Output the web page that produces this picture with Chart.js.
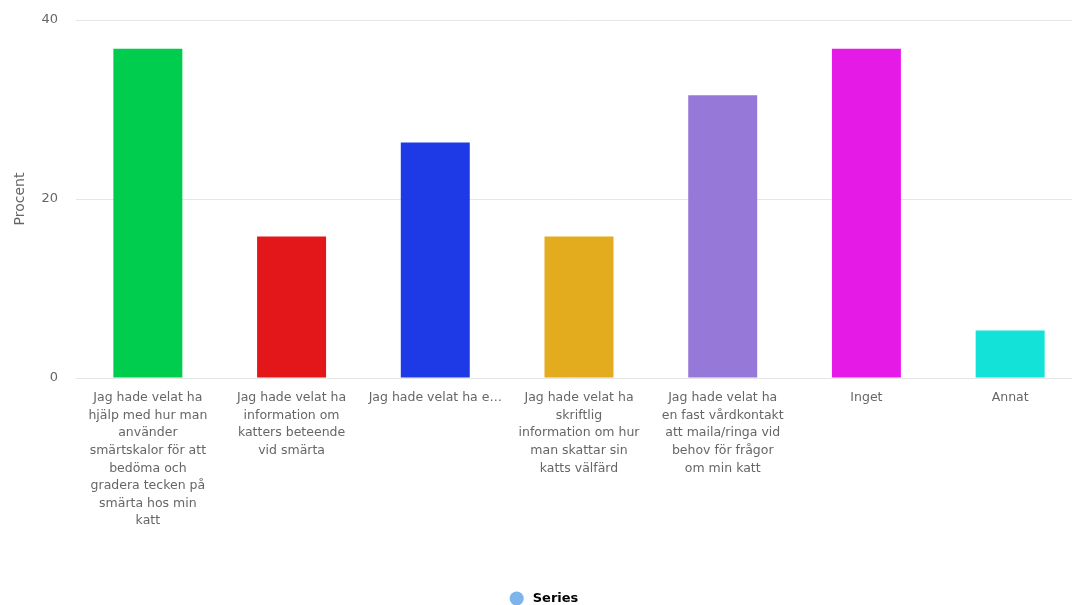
<!DOCTYPE html>
<html>
<head>
<meta charset="utf-8">
<script src="https://cdn.jsdelivr.net/npm/chart.js@4"></script>
<style>
  html, body { margin: 0; padding: 0; background: #fff; }
  #wrap { width: 1072px; height: 605px; }
</style>
</head>
<body>
<div id="wrap"><canvas id="chart" width="1072" height="605"></canvas></div>
<script>
// categories (already wrapped the way the reference shows them)
const labels = [
  ["Jag hade velat ha","hjälp med hur man","använder","smärtskalor för att","bedöma och","gradera tecken på","smärta hos min","katt"],
  ["Jag hade velat ha","information om","katters beteende","vid smärta"],
  ["Jag hade velat ha e…"],
  ["Jag hade velat ha","skriftlig","information om hur","man skattar sin","katts välfärd"],
  ["Jag hade velat ha","en fast vårdkontakt","att maila/ringa vid","behov för frågor","om min katt"],
  ["Inget"],
  ["Annat"]
];
const values = [36.8, 15.8, 26.3, 15.8, 31.6, 36.8, 5.3];
const barColors = ["#00cc4d","#e31619","#1e3ae6","#e3ab1e","#9678d8","#e61ae6","#12e2d8"];
const yTicks = [0, 20, 40];
const seriesName = "Series";
const seriesColor = "#7cb5ec";

Chart.defaults.font.family = "'DejaVu Sans', sans-serif";
Chart.defaults.font.size = 12;
Chart.defaults.color = "#666";

// the original plot starts higher and runs a bit past the right edge,
// and its legend sits lower than chart.js would put it
const nudge = {
  id: "nudge",
  afterLayout(chart) {
    const area = chart.chartArea;
    const x = chart.scales.x, y = chart.scales.y;
    x.right += 10; x.width += 10; x.configure();
    area.right += 10; area.width += 10;
    const dy = area.top - 20;
    y.top -= dy; y.height += dy; y.configure();
    area.top -= dy; area.height += dy;
    const lg = chart.legend;
    lg.top += 10; lg.bottom += 10;
    lg.left += 9; lg.right += 9;
  }
};

new Chart(document.getElementById("chart"), {
  type: "bar",
  data: {
    labels: labels,
    datasets: [{
      label: seriesName,
      data: values,
      backgroundColor: barColors,
      barPercentage: 0.48,
      categoryPercentage: 1
    }]
  },
  options: {
    responsive: false,
    animation: false,
    layout: { padding: { top: 15, right: 0, left: 0, bottom: 0 } },
    plugins: {
      tooltip: { enabled: false },
      legend: {
        position: "bottom",
        labels: {
          usePointStyle: true,
          boxWidth: 10,
          boxHeight: 10,
          padding: 4,
          color: "#333",
          font: { size: 13, weight: "bold" },
          generateLabels: () => [{
            text: " " + seriesName,
            fillStyle: seriesColor,
            strokeStyle: seriesColor,
            lineWidth: 0,
            pointStyle: "circle",
            datasetIndex: 0
          }]
        }
      }
    },
    scales: {
      x: {
        grid: { display: false },
        border: { display: false },
        ticks: {
          maxRotation: 0,
          minRotation: 0,
          autoSkip: false,
          padding: 3,
          color: "#666",
          font: { size: 12.5, lineHeight: 1.41 }
        },
        afterFit: s => { s.height = 200; }
      },
      y: {
        min: 0,
        max: 40,
        afterBuildTicks: s => { s.ticks = yTicks.map(v => ({ value: v })); },
        grid: { color: "#e6e6e6", drawTicks: false },
        border: { display: false },
        ticks: { padding: 18, color: "#666", font: { size: 13 } },
        title: { display: true, text: "Procent", color: "#666", font: { size: 14 }, padding: { top: 12, bottom: 0 } },
        afterFit: s => { s.width = 76; }
      }
    }
  },
  plugins: [nudge]
});
</script>
</body>
</html>
